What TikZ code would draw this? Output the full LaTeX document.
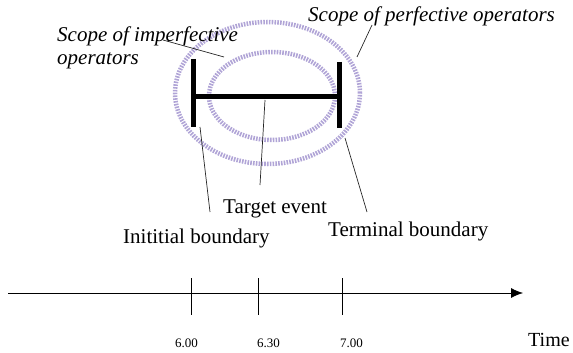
\documentclass[tikz,border=0pt]{standalone}
\usepackage{fontspec}
\setmainfont{Liberation Serif}
\usetikzlibrary{arrows.meta,shapes.geometric}
\definecolor{scopecol}{RGB}{176,164,214}
\begin{document}
\begin{tikzpicture}[x=1pt,y=-1pt,
  scopering/.style={draw=scopecol, line width=4.5pt, dash pattern=on 1.6pt off 1.2pt, ellipse, inner sep=0pt},
  bar/.style={line width=5pt},
  leader/.style={line width=0.7pt, draw=black!85},
  lab/.style={inner sep=0pt, anchor=base west, font=\fontsize{21}{23}\selectfont},
  ilab/.style={inner sep=0pt, anchor=base west, align=left, font=\fontsize{21}{23}\selectfont\itshape},
  num/.style={inner sep=0pt, anchor=base west, font=\fontsize{13}{15}\selectfont},
  tickline/.style={line width=0.7pt}]
\useasboundingbox (0,0) rectangle (573,353);
% scopes
\node[scopering, minimum width=185pt, minimum height=142pt] (outer) at (267.5,93) {};
\node[scopering, minimum width=126pt, minimum height=88pt] (inner) at (272,96) {};
% event
\coordinate (ibt) at (193,59); \coordinate (ibb) at (193,127);
\coordinate (tbt) at (339,62); \coordinate (tbb) at (339,128);
\coordinate (ibm) at (193,96); \coordinate (tbm) at (339,96);
\draw[bar] (ibt) -- (ibb);
\draw[bar] (tbt) -- (tbb);
\draw[bar] (ibm) -- (tbm);
% labels
\node[ilab] (imp) at (57,65) {Scope of imperfective\\operators};
\node[ilab] (perf) at (308,22) {Scope of perfective operators};
\node[lab] (target) at (223,213) {Target event};
\node[lab] (init) at (123,243) {Inititial boundary};
\node[lab] (term) at (328,236) {Terminal boundary};
% leaders
\coordinate (impa) at (163,40); \coordinate (impb) at (224,57);
\coordinate (perfa) at (372,25); \coordinate (perfb) at (357,57);
\coordinate (tga) at (265,100); \coordinate (tgb) at (260,185);
\coordinate (ina) at (200,127); \coordinate (inb) at (210,212);
\coordinate (tma) at (345,138); \coordinate (tmb) at (367,212);
\draw[leader] (impa) -- (impb);
\draw[leader] (perfa) -- (perfb);
\draw[leader] (tga) -- (tgb);
\draw[leader] (ina) -- (inb);
\draw[leader] (tma) -- (tmb);
% timeline
\coordinate (tl) at (8,293); \coordinate (tr) at (523,293);
\draw[line width=0.8pt, -{Latex[length=12pt,width=10pt]}] (tl) -- (tr);
\foreach \x/\n in {191/a,258/b,342/c}{
  \coordinate (t\n1) at (\x,278); \coordinate (t\n2) at (\x,315);
  \draw[tickline] (t\n1) -- (t\n2);
}
\node[num] (n1) at (175,347) {6.00};
\node[num] (n2) at (257,347) {6.30};
\node[num] (n3) at (340,347) {7.00};
\node[lab, font=\fontsize{20}{22}\selectfont] (time) at (528,346) {Time};
\end{tikzpicture}
\end{document}
